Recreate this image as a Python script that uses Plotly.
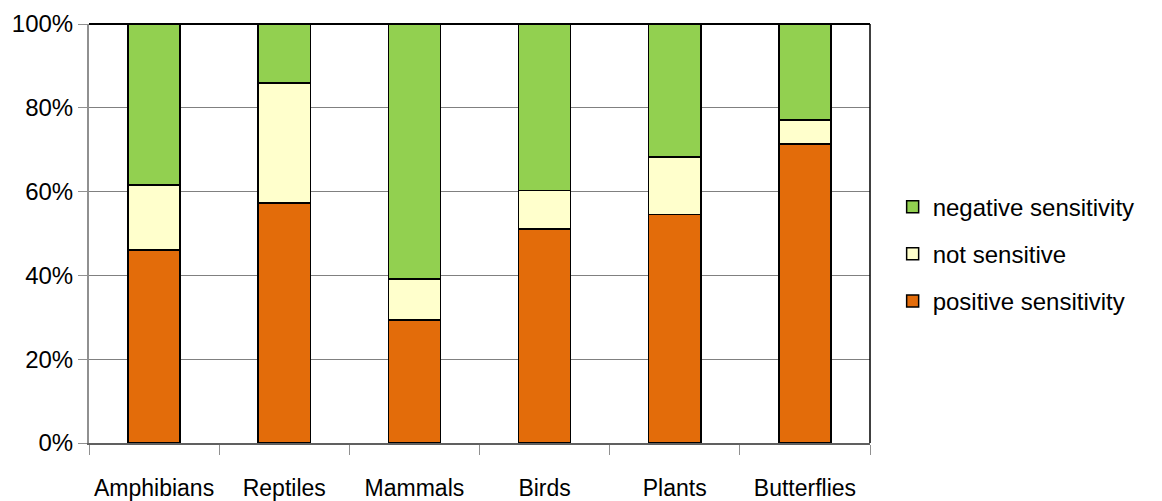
import plotly.graph_objects as go

# 資料（由圖讀取的百分比）
categories = ["Amphibians", "Reptiles", "Mammals", "Birds", "Plants", "Butterflies"]
positive = [46.1, 57.3, 29.4, 51.1, 54.5, 71.4]
not_sensitive = [15.5, 28.6, 9.7, 9.2, 13.8, 5.7]
negative = [38.4, 14.1, 60.9, 39.7, 31.7, 22.9]

series = [
    ("positive sensitivity", positive, "#E36C0A", 3),
    ("not sensitive", not_sensitive, "#FFFFCC", 2),
    ("negative sensitivity", negative, "#92D050", 1),
]

fig = go.Figure()
for name, vals, color, rank in series:
    fig.add_trace(go.Bar(
        x=categories, y=vals, name=name, legendgroup=name, legendrank=rank,
        marker=dict(color=color, line=dict(color="black", width=1.5)),
    ))

# 頁面 body 有 8px 邊距，尺寸與邊界已扣除
fig.update_layout(
    barmode="stack",
    bargap=0.6,
    width=1146, height=493,
    margin=dict(l=81, r=284, t=16, b=58),
    paper_bgcolor="white", plot_bgcolor="white",
    font=dict(family="Liberation Sans, Arial, sans-serif", color="black", size=23),
    legend=dict(
        x=1.029, y=0.451, xanchor="left", yanchor="middle",
        tracegroupgap=13,
        font=dict(size=24), itemwidth=30,
    ),
    xaxis=dict(
        showline=True, linecolor="#606060", linewidth=2,
        ticks="outside", tickson="boundaries", ticklen=10, tickcolor="#909090",
        ticklabelstandoff=23, showgrid=False, automargin=False,
        tickfont=dict(size=23), tickangle=0,
    ),
    yaxis=dict(
        range=[0, 100], dtick=20, ticksuffix="%",
        showline=True, linecolor="#909090", linewidth=2,
        ticks="outside", ticklen=9, tickcolor="#909090",
        showgrid=True, gridcolor="#808080", gridwidth=1,
        tickfont=dict(size=24), zeroline=False, automargin=False,
    ),
    shapes=[
        dict(type="line", xref="paper", yref="paper", x0=0, x1=1, y0=1, y1=1,
             line=dict(color="black", width=2)),
        dict(type="line", xref="paper", yref="paper", x0=1, x1=1, y0=0, y1=1,
             line=dict(color="black", width=1.5)),
    ],
)

fig.write_html("out.html")
